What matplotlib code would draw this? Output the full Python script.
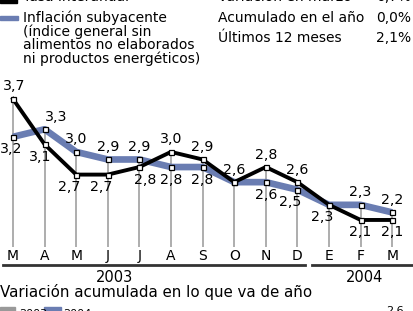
import matplotlib
matplotlib.use("Agg")
import matplotlib.pyplot as plt
from matplotlib.lines import Line2D
from matplotlib.patches import Rectangle

months = ["M", "A", "M", "J", "J", "A", "S", "O", "N", "D", "E", "F", "M"]
tasa_interanual = [3.7, 3.1, 2.7, 2.7, 2.8, 3.0, 2.9, 2.6, 2.8, 2.6, 2.3, 2.1, 2.1]
inflacion_subyacente = [3.2, 3.3, 3.0, 2.9, 2.9, 2.8, 2.8, 2.6, 2.6, 2.5, 2.3, 2.3, 2.2]
years = ["2003", "2004"]
summary_labels = ["Variación en marzo", "Acumulado en el año", "Últimos 12 meses"]
summary_values = ["0,7%", "0,0%", "2,1%"]

W, H = 414, 311
fig = plt.figure(figsize=(W / 100, H / 100), dpi=100)
plt.rcParams['font.family'] = ['DejaVu Sans']

# pixel mapping of data area
x0px, dxpx = 13.0, 31.6
v_ref, y_ref, pxunit = 3.7, 99.0, 75.6
ax = fig.add_axes([0, 0, 1, 1])
ax.set_xlim(-x0px / dxpx, (W - x0px) / dxpx)
ax.set_ylim(v_ref - (H - y_ref) / pxunit, v_ref + y_ref / pxunit)
ax.axis("off")

def fx(px):
    return px / W

def fy(py):
    return 1 - py / H

BLUE = "#6a7db2"
idx = list(range(len(months)))
bottom_v = v_ref - (247 - y_ref) / pxunit

# grey verticals
tops = [max(a, b) for a, b in zip(tasa_interanual, inflacion_subyacente)]
ax.vlines(idx, bottom_v, tops, colors="#a0a0a0", lw=1.2, zorder=1)

ax.plot(idx, inflacion_subyacente, color=BLUE, lw=4.8, solid_capstyle="butt", zorder=2)
ax.plot(idx, tasa_interanual, color="black", lw=2.8, zorder=3)
ax.plot(idx, inflacion_subyacente, ls="none", marker="s", ms=3.6, mfc="white", mec="black", mew=0.9, zorder=4)
ax.plot(idx, tasa_interanual, ls="none", marker="s", ms=3.6, mfc="white", mec="black", mew=0.9, zorder=5)

def fmt(v):
    return f"{v:.1f}".replace(".", ",")

fs_val = 10.2
for i, (a, b) in enumerate(zip(tasa_interanual, inflacion_subyacente)):
    if a == b:
        pos = [(a, 9 if i == 7 else -9)]
    else:
        hi, lo = max(a, b), min(a, b)
        pos = [(hi, 9), (lo, -9)]
    for v, dy in pos:
        ddx = 0
        if i == 0:
            ddx = 1 if dy > 0 else -1.5
        elif i == 1:
            ddx = 8 if dy > 0 else -3
        elif dy < 0 and i in (2, 3, 9, 10):
            ddx = -5
        elif dy < 0 and i == 4:
            ddx = 4
        ax.annotate(fmt(v), (i, v), xytext=(ddx, dy), textcoords="offset points",
                    ha="center", va="center", fontsize=fs_val, zorder=6)

# month labels
for i, m in enumerate(months):
    ax.text(i, v_ref - (256 - y_ref) / pxunit, m, ha="center", va="center", fontsize=10)

# year baselines
segs = [(3, 305), (312, 414)]
for (xa, xb) in segs:
    fig.add_artist(Line2D([fx(xa), fx(xb)], [fy(265), fy(265)], color="#333333", lw=2))
fig.text(fx(115), fy(277), years[0], ha="center", va="center", fontsize=10.5)
fig.text(fx(365), fy(277), years[1], ha="center", va="center", fontsize=10.5)

fig.text(fx(0), fy(292), "Variación acumulada en lo que va de año", ha="left", va="center", fontsize=10.8)

# bottom cut-off legend
fig.add_artist(Rectangle((fx(0), fy(311)), 15 / W, 4 / H, color="#999999"))
fig.add_artist(Rectangle((fx(44), fy(311)), 17 / W, 4 / H, color=BLUE))
fig.text(fx(19), fy(314), "2003", fontsize=8, va="center", ha="left")
fig.text(fx(63), fy(314), "2004", fontsize=8, va="center", ha="left")
fig.text(fx(395), fy(311), "2,6", fontsize=8, va="center", ha="center")

# top legend
fig.add_artist(Rectangle((fx(0), fy(3)), 17 / W, 4 / H, color="black"))
fig.text(fx(23), fy(-3), "Tasa interanual", fontsize=10, va="center", ha="left")
fig.add_artist(Rectangle((fx(0), fy(20)), 18 / W, 4 / H, color=BLUE))
leg_lines = ["Inflación subyacente", "(índice general sin", "alimentos no elaborados", "ni productos energéticos)"]
for k, t in enumerate(leg_lines):
    fig.text(fx(23), fy(18 + 13.5 * k), t, fontsize=10, va="center", ha="left")

for k, (lab, val) in enumerate(zip(summary_labels, summary_values)):
    yy = -3 + 20.5 * k
    fig.text(fx(218), fy(yy), lab, fontsize=10, va="center", ha="left")
    fig.text(fx(411), fy(yy), val, fontsize=10, va="center", ha="right")

fig.savefig("out.png", dpi=100)
